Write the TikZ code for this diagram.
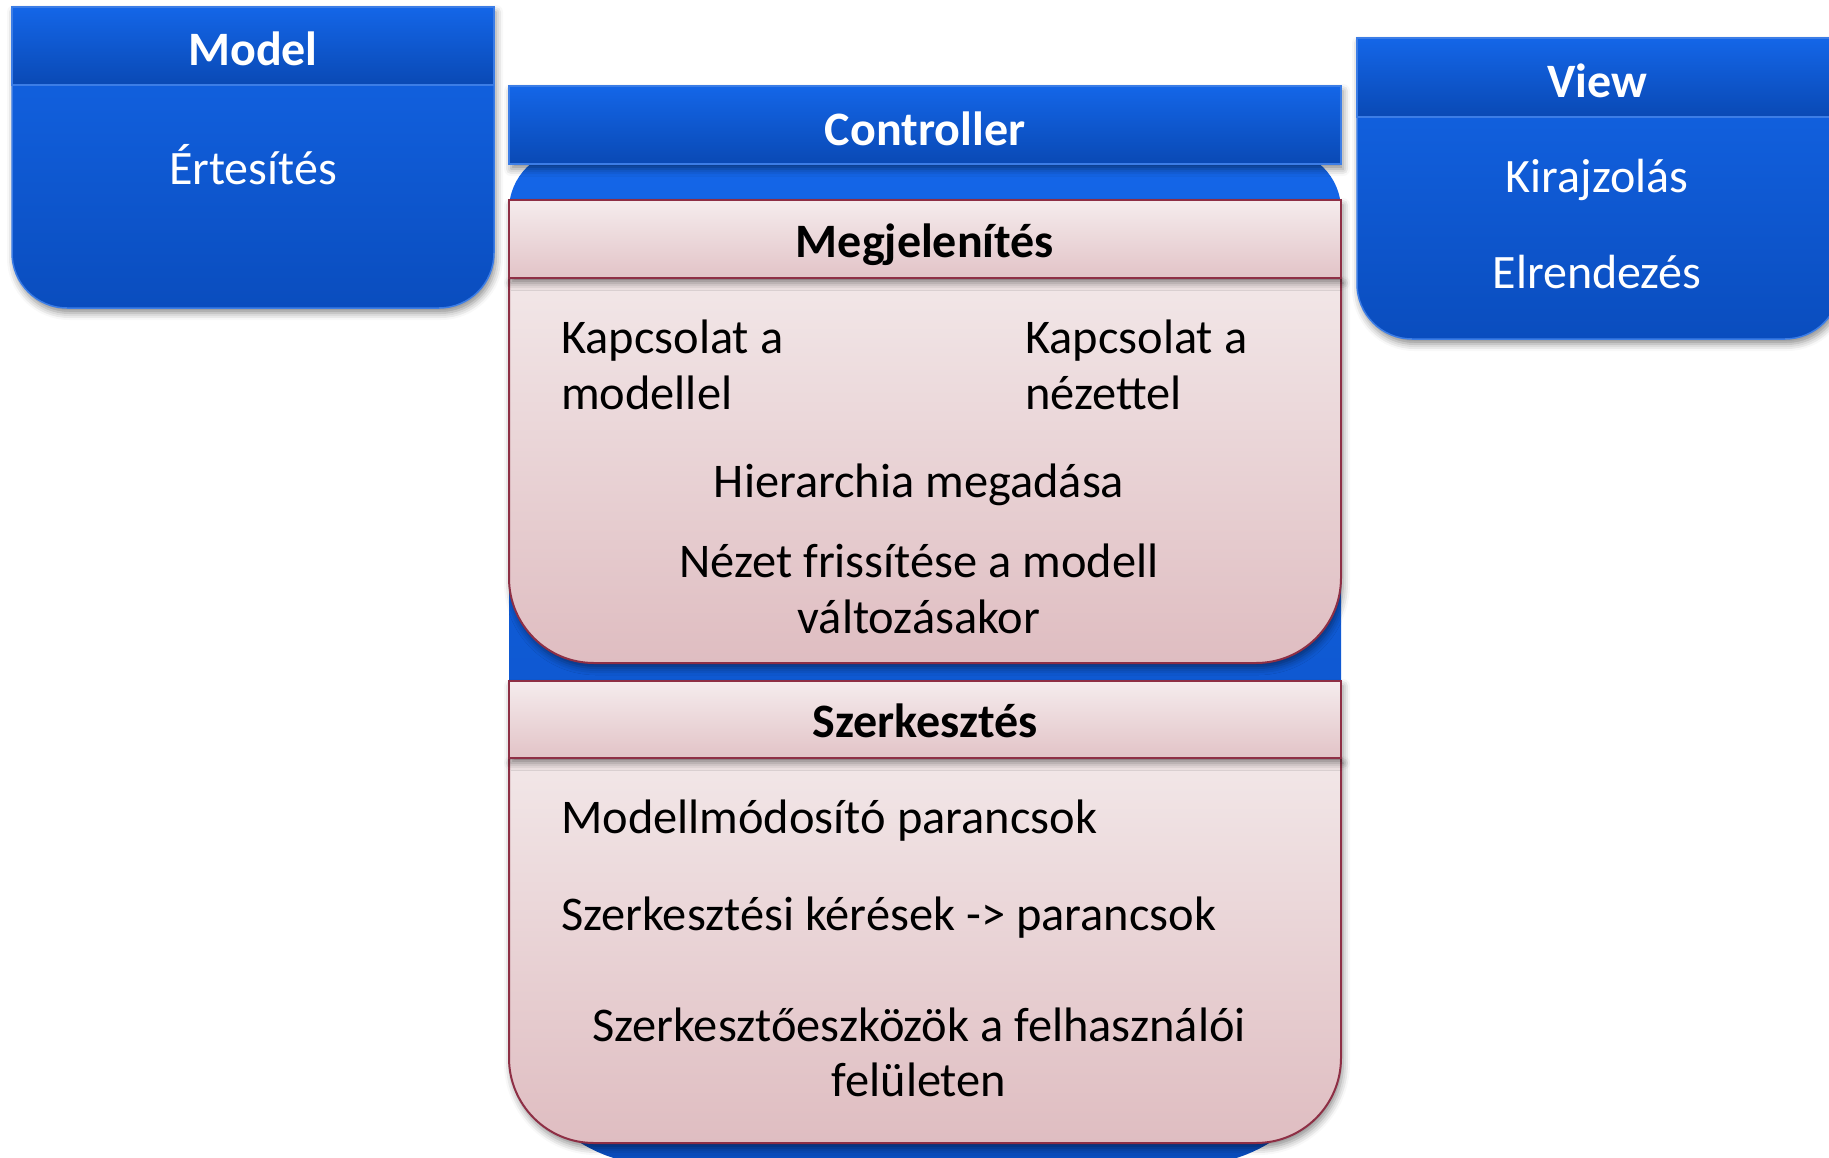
\documentclass[tikz,border=0pt]{standalone}
\usepackage{fontspec}
\setmainfont{Carlito}
\usetikzlibrary{shadows.blur}

\definecolor{bluetop}{HTML}{1466E8}
\definecolor{bluebot}{HTML}{0A4DBE}
\definecolor{blueline}{HTML}{3C7DE6}
\definecolor{pinkheadtop}{HTML}{F5ECED}
\definecolor{pinkheadbot}{HTML}{E2C3C7}
\definecolor{pinkbodytop}{HTML}{F2E7E8}
\definecolor{pinkbodybot}{HTML}{DFBDC1}
\definecolor{pinkborder}{HTML}{8E2F45}

\tikzset{
  bluebody/.style={top color=bluetop, bottom color=bluebot, draw=blueline, line width=1.5pt},
  bluehead/.style={top color=bluetop, bottom color=bluebot!95!black, draw=blueline, line width=1.5pt},
  pinkhead/.style={top color=pinkheadtop, bottom color=pinkheadbot, draw=pinkborder, line width=2pt},
  pinkbody/.style={top color=pinkbodytop, bottom color=pinkbodybot, draw=pinkborder, line width=2pt},
  softshadow/.style={blur shadow={shadow xshift=2pt, shadow yshift=-5pt, shadow blur radius=7pt, shadow opacity=45}},
  titletxt/.style={font=\fontsize{48}{56}\selectfont\bfseries, text=white, anchor=base, inner sep=0pt},
  bluetxt/.style={font=\fontsize{48}{56}\selectfont, text=white, anchor=base, inner sep=0pt},
  headtxt/.style={font=\fontsize{48}{56}\selectfont\bfseries, text=black, anchor=base, inner sep=0pt},
  bodytxt/.style={font=\fontsize{48.4}{56}\selectfont, text=black, anchor=base, inner sep=0pt},
  bodytxtl/.style={bodytxt, anchor=base west},
}

\begin{document}
\begin{tikzpicture}[x=1pt, y=-1pt]
\useasboundingbox (0,0) rectangle (1829,1157);
\clip (0,0) rectangle (1829,1157);

% ---------- Model ----------
\path[bluebody, softshadow]
  (12,7) -- (494,7) -- (494,253) arc[start angle=0, end angle=90, radius=55]
  -- (67,308) arc[start angle=90, end angle=180, radius=55] -- cycle;
\path[bluehead] (12,7) rectangle (494,85);
\node[titletxt] (modeltitle) at (253,65) {Model};
\node[bluetxt] (ertesites) at (253,184) {Értesítés};

% ---------- View ----------
\path[bluebody, softshadow]
  (1357,38) -- (1840,38) -- (1840,284) arc[start angle=0, end angle=90, radius=55]
  -- (1412,339) arc[start angle=90, end angle=180, radius=55] -- cycle;
\path[bluehead] (1357,38) rectangle (1840,117);
\node[titletxt] (viewtitle) at (1597,97) {View};
\node[bluetxt] (kirajzolas) at (1597,192) {Kirajzolás};
\node[bluetxt] (elrendezes) at (1597,288) {Elrendezés};

% ---------- Controller ----------
% body: small top corners, wide rounded bottom corners
\path[bluebody, draw=none]
  (509,210) arc[start angle=180, end angle=270, radius=60]
  -- (1281,150) arc[start angle=270, end angle=360, radius=60]
  -- (1341,1015) arc[start angle=0, end angle=90, radius=150]
  -- (659,1165) arc[start angle=90, end angle=180, radius=150] -- cycle;
\path[bluehead, softshadow] (509,86) rectangle (1341,164);
\node[titletxt] (controllertitle) at (925,145) {Controller};

% Megjelenítés panel
\path[pinkbody, softshadow]
  (509,278) -- (1341,278) -- (1341,578) arc[start angle=0, end angle=90, radius=85]
  -- (594,663) arc[start angle=90, end angle=180, radius=85] -- cycle;
\path[pinkhead, softshadow] (509,200) rectangle (1341,278);
\node[headtxt] (megjelenites) at (925,257) {Megjelenítés};
\node[bodytxtl] (kapcsmodell1) at (561,353) {Kapcsolat a};
\node[bodytxtl] (kapcsmodell2) at (561,409) {modellel};
\node[bodytxtl] (kapcsnezet1) at (1025,353) {Kapcsolat a};
\node[bodytxtl] (kapcsnezet2) at (1025,409) {nézettel};
\node[bodytxt] (hierarchia) at (919,497) {Hierarchia megadása};
\node[bodytxt] (frissites1) at (919,577) {Nézet frissítése a modell};
\node[bodytxt] (frissites2) at (919,633) {változásakor};

% Szerkesztés panel
\path[pinkbody, softshadow]
  (509,758) -- (1341,758) -- (1341,1058) arc[start angle=0, end angle=90, radius=85]
  -- (594,1143) arc[start angle=90, end angle=180, radius=85] -- cycle;
\path[pinkhead, softshadow] (509,681) rectangle (1341,758);
\node[headtxt] (szerkesztes) at (925,737) {Szerkesztés};
\node[bodytxtl] (modellmod) at (561,833) {Modellmódosító parancsok};
\node[bodytxtl] (kereses) at (561,930) {Szerkesztési kérések -> parancsok};
\node[bodytxt] (eszkozok1) at (919,1041) {Szerkesztőeszközök a felhasználói};
\node[bodytxt] (eszkozok2) at (919,1096) {felületen};
\end{tikzpicture}
\end{document}
